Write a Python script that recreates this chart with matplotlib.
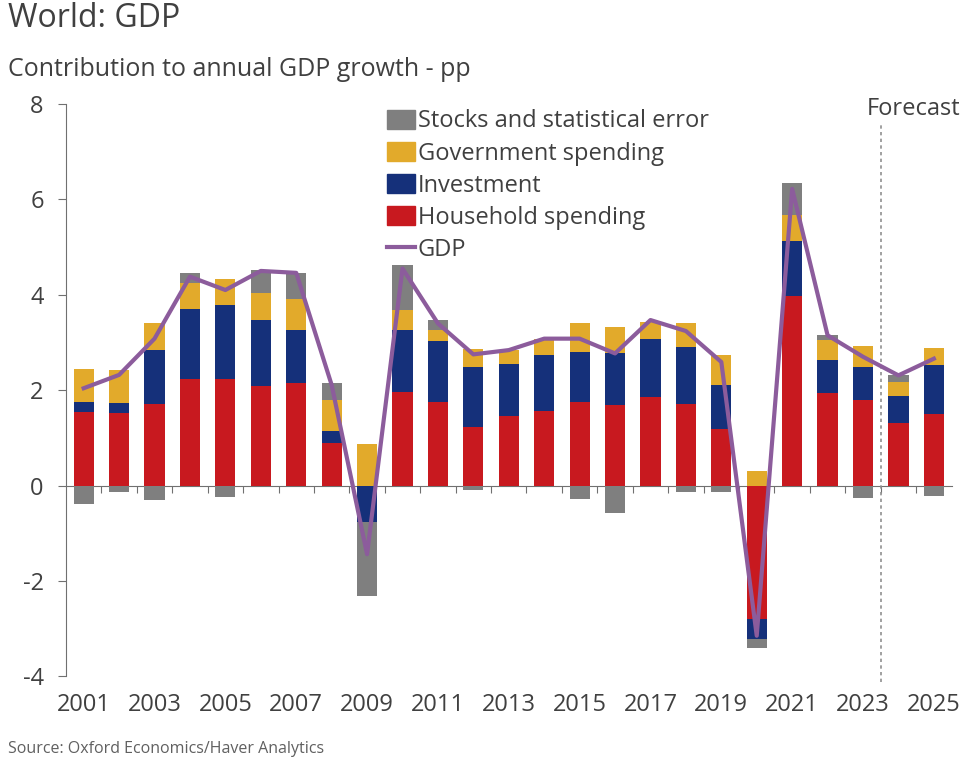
import numpy as np
import matplotlib.pyplot as plt
from matplotlib.patches import Patch
from matplotlib.lines import Line2D

plt.rcParams['font.family'] = ['Open Sans', 'DejaVu Sans']
plt.rcParams['axes.unicode_minus'] = False

years = list(range(2001, 2026))
household = [1.54, 1.53, 1.70, 2.24, 2.24, 2.08, 2.15, 0.89, 0.00, 1.96, 1.75, 1.23, 1.45,
             1.56, 1.75, 1.68, 1.86, 1.72, 1.19, -2.80, 3.97, 1.93, 1.80, 1.31, 1.51]
investment = [0.22, 0.20, 1.14, 1.47, 1.54, 1.39, 1.12, 0.25, -0.76, 1.30, 1.28, 1.26, 1.09,
              1.17, 1.05, 1.09, 1.22, 1.19, 0.91, -0.42, 1.16, 0.71, 0.69, 0.56, 1.01]
government = [0.69, 0.69, 0.56, 0.53, 0.56, 0.57, 0.65, 0.65, 0.88, 0.42, 0.24, 0.38, 0.30,
              0.35, 0.60, 0.56, 0.34, 0.49, 0.63, 0.31, 0.54, 0.41, 0.43, 0.30, 0.37]
stocks = [-0.38, -0.14, -0.30, 0.22, -0.25, 0.48, 0.54, 0.35, -1.55, 0.94, 0.20, -0.10, 0.00,
          0.00, -0.28, -0.58, 0.00, -0.14, -0.14, -0.18, 0.67, 0.10, -0.26, 0.14, -0.23]
gdp = [2.04, 2.32, 3.08, 4.38, 4.10, 4.50, 4.46, 2.11, -1.44, 4.55, 3.40, 2.75, 2.84,
       3.08, 3.08, 2.77, 3.47, 3.24, 2.59, -3.15, 6.22, 3.15, 2.70, 2.31, 2.66]

series = [("Household spending", household, "#C8191F"),
          ("Investment", investment, "#15307A"),
          ("Government spending", government, "#E2AA2B"),
          ("Stocks and statistical error", stocks, "#7F7F7F")]

txt = "#404040"
fig = plt.figure(figsize=(9.7, 7.65), dpi=100)
ax = fig.add_axes([0.068, 0.116, 0.913, 0.748])

x = np.array(years)
pos = np.zeros(len(x))
neg = np.zeros(len(x))
for name, vals, col in series:
    v = np.array(vals)
    base = np.where(v >= 0, pos, neg)
    ax.bar(x, v, 0.57, bottom=base, color=col, zorder=2)
    pos = pos + np.clip(v, 0, None)
    neg = neg + np.clip(v, None, 0)

ax.plot(x, gdp, color="#8C5C9C", lw=3, zorder=3)

ax.set_xlim(2000.5, 2025.5)
ax.set_ylim(-4, 8)
ax.set_yticks([-4, -2, 0, 2, 4, 6, 8])
for s in ["top", "right", "bottom"]:
    ax.spines[s].set_visible(False)
ax.spines["left"].set_color("#707070")
ax.tick_params(axis="y", colors="#707070", labelcolor=txt, labelsize=17, length=6, pad=10)
ax.set_xticks(years[::2])
ax.tick_params(axis="x", length=0, labelcolor=txt, labelsize=17, pad=12)

# zero line with small ticks between the years
sec = ax.secondary_xaxis(4 / 12)
sec.set_xticks(np.array(years[:-1]) + 0.5)
sec.set_xticklabels([])
sec.spines["bottom"].set_color("#707070")
sec.tick_params(axis="x", direction="out", length=5, colors="#707070")

ax.axvline(2023.5, ymin=-0.01, ymax=0.963, color="#909090", ls=(0, (2, 2)), lw=1.2, clip_on=False)
ax.text(2025.75, 7.9, "Forecast", ha="right", va="center", fontsize=17, color=txt)

handles = [Patch(color=c) for _, _, c in series[::-1]]
handles.append(Line2D([], [], color="#8C5C9C", lw=3))
labels = [n for n, _, _ in series[::-1]] + ["GDP"]
ax.legend(handles, labels, loc="upper left", bbox_to_anchor=(0.352, 1.007), frameon=False,
          fontsize=17, handlelength=1.2, handleheight=0.85, handletextpad=0.1,
          labelspacing=0.34, labelcolor=txt, borderaxespad=0)

fig.text(0.008, 0.976, "World: GDP", fontsize=23, color=txt, va="center")
fig.text(0.008, 0.909, "Contribution to annual GDP growth - pp", fontsize=18, color=txt, va="center")
fig.text(0.008, 0.021, "Source: Oxford Economics/Haver Analytics", fontsize=11.5, color="#606060", va="center")

fig.savefig("out.png")
